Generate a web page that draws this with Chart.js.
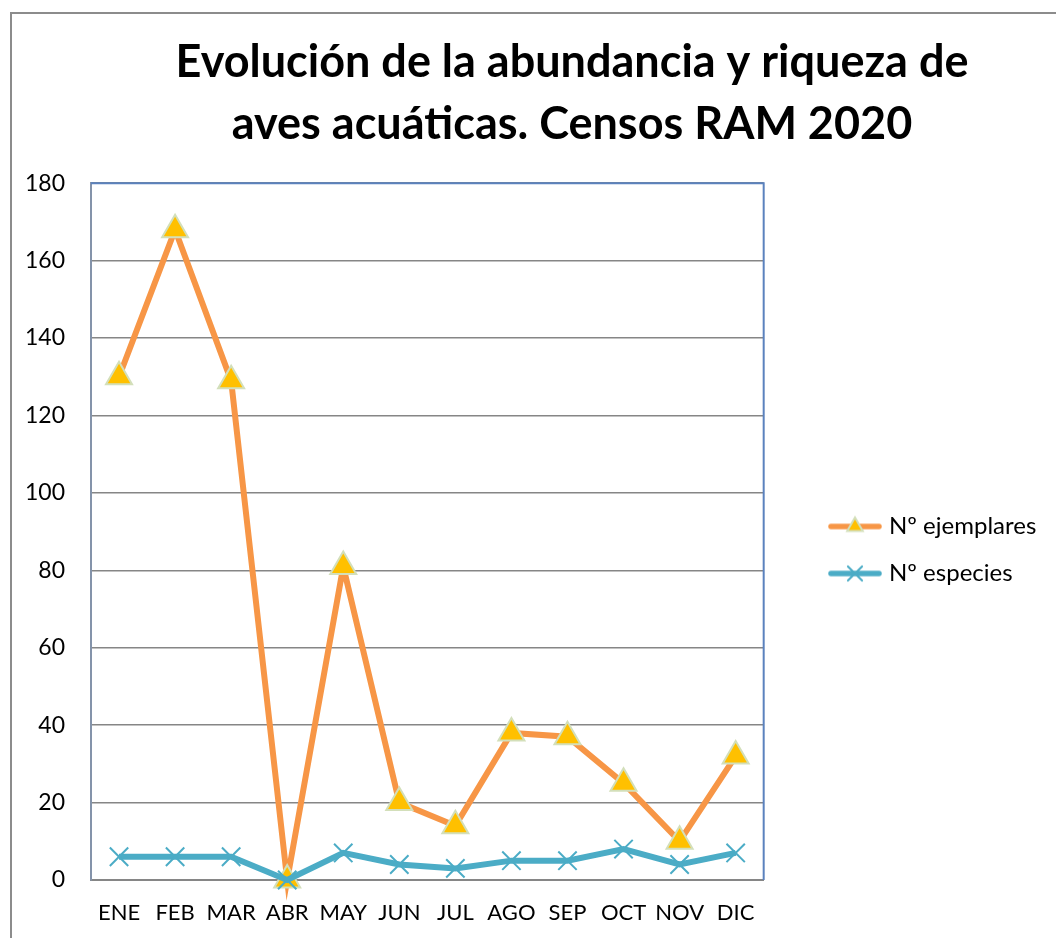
<!DOCTYPE html>
<html lang="es">
<head>
<meta charset="utf-8">
<title>Censos RAM 2020</title>
<script src="https://cdn.jsdelivr.net/npm/chart.js@4.4.0/dist/chart.umd.min.js"></script>
<style>
  html, body { margin: 0; padding: 0; background: #fff; overflow: hidden; }
  .marco {
    position: absolute; left: 10px; top: 12px;
    border-left: 2px solid #8c8c8c; border-top: 2px solid #8c8c8c;
  }
  canvas { display: block; }
</style>
</head>
<body>
<div class="marco">
  <canvas id="grafico" width="1044" height="924"></canvas>
</div>
<script>
// ==================== DATOS ====================
const meses = ["ENE", "FEB", "MAR", "ABR", "MAY", "JUN", "JUL", "AGO", "SEP", "OCT", "NOV", "DIC"];
const ejemplares = [130, 168, 129, 0, 81, 20, 14, 38, 37, 25, 10, 32];
const especies = [6, 6, 6, 0, 7, 4, 3, 5, 5, 8, 4, 7];
const marcasY = [0, 20, 40, 60, 80, 100, 120, 140, 160, 180];

const titulo = ["Evolución de la abundancia y riqueza de", "aves acuáticas. Censos RAM 2020"];
const nombres = ["Nº ejemplares", "Nº especies"];

const NARANJA = "#F79646";
const AMARILLO = "#FFC000";
const BORDE_TRIANGULO = "#D3DFBA";
const AZUL = "#4BACC6";
const FUENTE = "Lato, 'Open Sans', sans-serif";

// ==================== ICONOS DE LEYENDA ====================
function iconoLeyenda(color, marca) {
  const c = document.createElement("canvas");
  c.width = 54;
  c.height = 24;
  const g = c.getContext("2d");
  g.strokeStyle = color;
  g.lineWidth = 5.5;
  g.lineCap = "round";
  g.beginPath();
  g.moveTo(3, 12);
  g.lineTo(51, 12);
  g.stroke();
  g.fillStyle = marca.fondo;
  g.strokeStyle = marca.borde;
  g.lineWidth = 2;
  Chart.helpers.drawPoint(g, { pointStyle: marca.estilo, radius: marca.radio, borderWidth: 2 }, 27, 12);
  return c;
}

const iconos = [
  iconoLeyenda(NARANJA, { estilo: "triangle", radio: 9, fondo: AMARILLO, borde: BORDE_TRIANGULO }),
  iconoLeyenda(AZUL, { estilo: "crossRot", radio: 10, fondo: AZUL, borde: AZUL }),
];

// ==================== PLUGINS ====================
// borde superior y derecho del área de trazado
const marcoArea = {
  id: "marcoArea",
  beforeDatasetsDraw(chart) {
    const { ctx, chartArea: a } = chart;
    ctx.save();
    ctx.strokeStyle = "#5B82BE";
    ctx.lineWidth = 2;
    ctx.beginPath();
    ctx.moveTo(a.left, a.top);
    ctx.lineTo(a.right, a.top);
    ctx.lineTo(a.right, a.bottom);
    ctx.stroke();
    ctx.restore();
  },
};

// recoloca título y leyenda como en el original
const recolocar = {
  id: "recolocar",
  afterLayout(chart) {
    const t = chart.titleBlock;
    if (t) {
      const dx = 560 - (t.left + t.right) / 2;
      t.left += dx;
      t.right += dx;
    }
    const l = chart.legend;
    if (l) {
      const dx = 798 - l.left;
      const dy = 536 - (l.top + l.bottom) / 2;
      l.left += dx;
      l.right += dx;
      l.top += dy;
      l.bottom += dy;
    }
  },
};

// ==================== GRÁFICO ====================
new Chart(document.getElementById("grafico"), {
  type: "line",
  data: {
    labels: meses,
    datasets: [
      {
        label: nombres[0],
        data: ejemplares,
        borderColor: NARANJA,
        borderWidth: 6,
        tension: 0,
        pointStyle: "triangle",
        pointRadius: 15,
        pointBackgroundColor: AMARILLO,
        pointBorderColor: BORDE_TRIANGULO,
        pointBorderWidth: 2,
        clip: false,
        order: 2,
      },
      {
        label: nombres[1],
        data: especies,
        borderColor: AZUL,
        borderWidth: 6,
        tension: 0,
        pointStyle: "crossRot",
        pointRadius: 13,
        pointBorderColor: AZUL,
        pointBackgroundColor: AZUL,
        pointBorderWidth: 2,
        clip: false,
        order: 1,
      },
    ],
  },
  options: {
    responsive: false,
    animation: false,
    layout: { padding: { top: 0, left: 0, right: 56, bottom: 0 } },
    plugins: {
      title: {
        display: true,
        text: titulo,
        color: "#000",
        font: { family: FUENTE, size: 45, weight: "bold", lineHeight: 1.38 },
        padding: { top: 17, bottom: 28 },
      },
      legend: {
        position: "right",
        labels: {
          color: "#000",
          font: { family: FUENTE, size: 24 },
          padding: 23,
          usePointStyle: true,
          pointStyleWidth: 44,
          generateLabels(chart) {
            return chart.data.datasets.map((ds, i) => ({
              text: ds.label,
              pointStyle: iconos[i],
              fillStyle: ds.borderColor,
              strokeStyle: ds.borderColor,
              lineWidth: 0,
              hidden: false,
              datasetIndex: i,
            }));
          },
        },
      },
      tooltip: { enabled: false },
    },
    scales: {
      x: {
        offset: true,
        grid: { display: false, drawTicks: false, offset: true },
        border: { color: "#868686", width: 2 },
        ticks: { color: "#000", font: { family: FUENTE, size: 22 }, padding: 20, maxRotation: 0, autoSkip: false },
        afterFit(s) { s.height = 58; },
      },
      y: {
        min: 0,
        max: 180,
        afterBuildTicks(s) { s.ticks = marcasY.map((v) => ({ value: v })); },
        grid: { color: "#868686", lineWidth: 1.5, drawTicks: false },
        border: { color: "#8493AA", width: 2 },
        ticks: { color: "#000", font: { family: FUENTE, size: 23 }, padding: 26 },
        afterFit(s) { s.width = 79; },
      },
    },
  },
  plugins: [marcoArea, recolocar],
});
</script>
</body>
</html>
